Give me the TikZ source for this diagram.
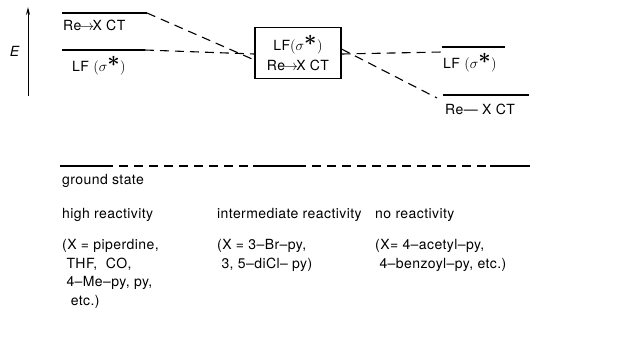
\documentclass[tikz,border=0pt]{standalone}
\usepackage{amsmath,bm}
\usepackage{fontspec}
\setmainfont[LetterSpace=3]{TeX Gyre Heros}
\usetikzlibrary{arrows.meta, positioning}
\tikzset{
  font=\fontsize{14}{18.7}\selectfont,    % sans text everywhere
  level/.style    = {line width=1.2pt},
  link/.style     = {line width=1.1pt, dash pattern=on 9pt off 6pt},
  caption/.style  = {anchor=west, inner sep=0pt, align=left},
  statebox/.style = {draw, line width=1.1pt, align=center, inner sep=1pt,
                     minimum width=86pt, minimum height=51pt}
}
\newcommand{\sigstar}{$(\sigma^{\scalebox{1.5}{$\bm{\ast}$}})$}
\newcommand{\toarrow}{$\mkern-2mu\rightarrow\mkern-2mu$}

\begin{document}
\begin{tikzpicture}[x=1pt, y=-1pt]
  \useasboundingbox (0,0) rectangle (619,341);
  % energy axis
  \coordinate (Ebot) at (28,96);
  \coordinate (Etop) at (28,7);
  \draw[line width=1pt, -{Stealth[length=8pt, width=4pt]}] (Ebot) -- (Etop);
  \node (Elab) at (15,51) {\textit{E}};
  % left levels (high reactivity)
  \coordinate (LCTa) at (62,13);  \coordinate (LCTb) at (147,13);
  \coordinate (LLFa) at (62,50);  \coordinate (LLFb) at (145,50);
  \draw[level] (LCTa) -- (LCTb);
  \draw[level] (LLFa) -- (LLFb);
  \node[caption] (lct) at (63,25) {Re\toarrow X CT};
  \node[caption] (llf) at (72,66) {LF \sigstar};
  % middle (intermediate reactivity)
  \node[statebox] (mid) at (298,53) {LF\sigstar\\[2pt]Re\toarrow X CT};
  % right levels (no reactivity)
  \coordinate (RLFa) at (442,47); \coordinate (RLFb) at (505,47);
  \coordinate (RCTa) at (443,95); \coordinate (RCTb) at (529,95);
  \draw[level] (RLFa) -- (RLFb);
  \draw[level] (RCTa) -- (RCTb);
  \node[caption] (rlf) at (443,63) {LF \sigstar};
  \node[caption] (rct) at (445,109) {Re--- X CT};
  % correlation lines
  \draw[link] (LCTb) -- ([yshift=-7pt]mid.west);
  \draw[link] (LLFb) -- ([yshift=-1pt]mid.west);
  \draw[link] ([yshift=-1pt]mid.east) -- (RLFa |- 0,52);
  \draw[link] ([yshift=4pt]mid.east) -- ([xshift=-6pt, yshift=-3pt]RCTa);
  % ground state
  \coordinate (G1) at (60,166);  \coordinate (G2) at (104,166);
  \coordinate (G3) at (253,166); \coordinate (G4) at (297,166);
  \coordinate (G5) at (490,166); \coordinate (G6) at (530,166);
  \draw[level] (G1) -- (G2);
  \draw[link] (G2) -- (G3);
  \draw[level] (G3) -- (G4);
  \draw[link] (G4) -- (G5);
  \draw[level] (G5) -- (G6);
  \node[caption] (gs) at (62,181) {ground state};
  % reactivity classes
  \node[caption] (hi)  at (62,215)  {high reactivity};
  \node[caption] (im)  at (217,215) {intermediate reactivity};
  \node[caption] (no)  at (375,215) {no reactivity};
  \node[caption, anchor=north west] (hiX) at (62,239)
    {(X = piperdine,\\\ THF,\ \ CO,\\\ 4--Me--py, py,\\\ \ etc.)};
  \node[caption, anchor=north west] (imX) at (217,239)
    {(X = 3--Br--py,\\\ 3, 5--diCl-- py)};
  \node[caption, anchor=north west] (noX) at (375,239)
    {(X= 4--acetyl--py,\\\ 4--benzoyl--py, etc.)};
\end{tikzpicture}
\end{document}
